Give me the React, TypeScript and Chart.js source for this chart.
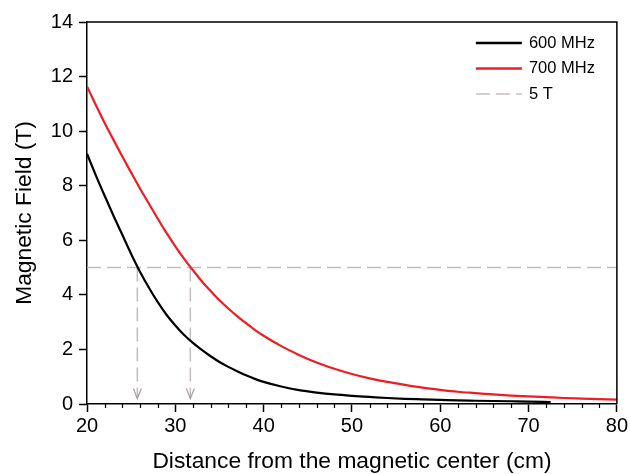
import React, { useEffect, useRef } from 'react';
import { Chart, registerables } from 'chart.js';

Chart.register(...registerables);

// ---- data ----
const distance600 = [20, 21, 22, 23, 24, 25, 26, 27, 28, 29, 30, 31, 32, 33, 34, 35, 36, 37, 38, 39, 40, 42, 44, 46, 48, 50, 52, 54, 56, 58, 60, 62, 64, 66, 68, 70, 72.5];
const field600 = [9.17, 8.38, 7.63, 6.9, 6.2, 5.5, 4.85, 4.27, 3.74, 3.27, 2.88, 2.53, 2.24, 1.98, 1.75, 1.54, 1.36, 1.2, 1.05, 0.92, 0.81, 0.64, 0.51, 0.42, 0.35, 0.3, 0.26, 0.22, 0.19, 0.17, 0.15, 0.13, 0.12, 0.11, 0.1, 0.09, 0.07];

const distance700 = [20, 21, 22, 23, 24, 25, 26, 27, 28, 29, 30, 31, 32, 33, 34, 35, 36, 37, 38, 39, 40, 42, 44, 46, 48, 50, 52, 54, 56, 58, 60, 62, 64, 66, 68, 70, 72, 74, 76, 78, 80];
const field700 = [11.64, 10.96, 10.3, 9.68, 9.07, 8.48, 7.9, 7.35, 6.8, 6.27, 5.78, 5.32, 4.9, 4.5, 4.14, 3.8, 3.5, 3.22, 2.96, 2.72, 2.5, 2.12, 1.8, 1.52, 1.29, 1.1, 0.94, 0.81, 0.7, 0.6, 0.52, 0.45, 0.4, 0.35, 0.31, 0.28, 0.25, 0.22, 0.2, 0.18, 0.16];

const thresholdX = [20, 80];
const thresholdT = 5;
const arrowX = [25.7, 31.7];
const arrowTipY = 0.2;

const seriesLabels = ['600 MHz', '700 MHz', '5 T'];
const xRange = [20, 80];
const yRange = [0, 14];
const xMajorStep = 10;
const xMinorStep = 2;
const yStep = 2;

const FONT = "'Liberation Sans', Arial, Helvetica, sans-serif";
const RED = '#ee1d23';
const GREY = '#c4bcbc';
const ARROW = '#a89f9f';
const DASH = [14, 6];

const decorPlugin = {
  id: 'decor',
  afterDatasetsDraw(chart: any) {
    const { ctx, chartArea: a, scales } = chart;
    const x = scales.x;
    const y = scales.y;
    ctx.save();
    // frame top/right
    ctx.strokeStyle = '#000';
    ctx.lineWidth = 1.5;
    ctx.beginPath();
    ctx.moveTo(a.left, a.top);
    ctx.lineTo(a.right, a.top);
    ctx.lineTo(a.right, a.bottom);
    ctx.stroke();
    // minor ticks on x
    ctx.lineWidth = 1.2;
    for (let v = xRange[0]; v <= xRange[1]; v += xMinorStep) {
      if (v % xMajorStep === 0) continue;
      const px = Math.round(x.getPixelForValue(v)) + 0.5;
      ctx.beginPath();
      ctx.moveTo(px, a.bottom);
      ctx.lineTo(px, a.bottom + 4);
      ctx.stroke();
    }
    // arrowheads
    ctx.strokeStyle = ARROW;
    ctx.lineWidth = 1.2;
    arrowX.forEach((v) => {
      const px = x.getPixelForValue(v);
      const py = y.getPixelForValue(arrowTipY);
      ctx.beginPath();
      ctx.moveTo(px - 4, py - 10);
      ctx.lineTo(px, py);
      ctx.lineTo(px + 4, py - 10);
      ctx.stroke();
    });
    // legend
    const ds = chart.data.datasets;
    const lx0 = a.right - 141;
    const lx1 = a.right - 95;
    const tx = a.right - 88;
    ctx.font = `16.5px ${FONT}`;
    ctx.textBaseline = 'middle';
    ctx.textAlign = 'left';
    seriesLabels.forEach((lab, i) => {
      const ly = a.top + 21 + i * 25.5;
      ctx.strokeStyle = ds[i].borderColor;
      ctx.lineWidth = i === 2 ? 1.5 : 2.5;
      ctx.setLineDash(i === 2 ? DASH : []);
      ctx.beginPath();
      ctx.moveTo(lx0, ly);
      ctx.lineTo(lx1, ly);
      ctx.stroke();
      ctx.setLineDash([]);
      ctx.fillStyle = '#000';
      ctx.fillText(lab, tx, ly);
    });
    ctx.restore();
  },
};

export default function App() {
  const ref = useRef<HTMLCanvasElement | null>(null);

  useEffect(() => {
    document.body.style.margin = '0';
    const canvas = ref.current;
    if (!canvas) return;
    const chart = new Chart(canvas, {
      type: 'line',
      data: {
        datasets: [
          {
            label: seriesLabels[0],
            data: distance600.map((d, i) => ({ x: d, y: field600[i] })),
            borderColor: '#000',
            borderWidth: 2.2,
            pointRadius: 0,
            cubicInterpolationMode: 'monotone',
            fill: false,
          },
          {
            label: seriesLabels[1],
            data: distance700.map((d, i) => ({ x: d, y: field700[i] })),
            borderColor: RED,
            borderWidth: 2.2,
            pointRadius: 0,
            cubicInterpolationMode: 'monotone',
            fill: false,
          },
          {
            label: seriesLabels[2],
            data: thresholdX.map((d) => ({ x: d, y: thresholdT })),
            borderColor: GREY,
            borderWidth: 1.5,
            borderDash: DASH,
            pointRadius: 0,
            fill: false,
          },
          ...arrowX.map((v) => ({
            label: 'arrow',
            data: [
              { x: v, y: thresholdT },
              { x: v, y: arrowTipY },
            ],
            borderColor: GREY,
            borderWidth: 1.5,
            borderDash: DASH,
            pointRadius: 0,
            fill: false,
          })),
        ],
      },
      options: {
        responsive: false,
        animation: false,
        layout: { padding: { top: 22, right: 12, left: 0, bottom: 0 } },
        plugins: { legend: { display: false }, tooltip: { enabled: false } },
        scales: {
          x: {
            type: 'linear',
            min: xRange[0],
            max: xRange[1],
            afterFit: (s: any) => {
              s.height = 70;
            },
            ticks: { stepSize: xMajorStep, color: '#000', font: { family: FONT, size: 20 }, padding: 2, maxRotation: 0 },
            grid: { drawOnChartArea: false, tickLength: 8, tickColor: '#000', tickWidth: 1.5 },
            border: { color: '#000', width: 1.5 },
            title: {
              display: true,
              text: 'Distance from the magnetic center (cm)',
              color: '#000',
              font: { family: FONT, size: 22.8, lineHeight: 1 },
              padding: { top: 0, bottom: 1 },
            },
          },
          y: {
            type: 'linear',
            min: yRange[0],
            max: yRange[1],
            afterFit: (s: any) => {
              s.width = 87;
            },
            ticks: { stepSize: yStep, color: '#000', font: { family: FONT, size: 20 }, padding: 6 },
            grid: { drawOnChartArea: false, tickLength: 8, tickColor: '#000', tickWidth: 1.5 },
            border: { color: '#000', width: 1.5 },
            title: {
              display: true,
              text: 'Magnetic Field (T)',
              color: '#000',
              font: { family: FONT, size: 22.8, lineHeight: 1 },
              padding: { top: 13, bottom: 0 },
            },
          },
        },
      },
      plugins: [decorPlugin],
    });
    return () => chart.destroy();
  }, []);

  return (
    <div style={{ position: 'fixed', left: 0, top: 0, width: 630, height: 474, background: '#fff' }}>
      <canvas ref={ref} width={630} height={474} />
    </div>
  );
}
